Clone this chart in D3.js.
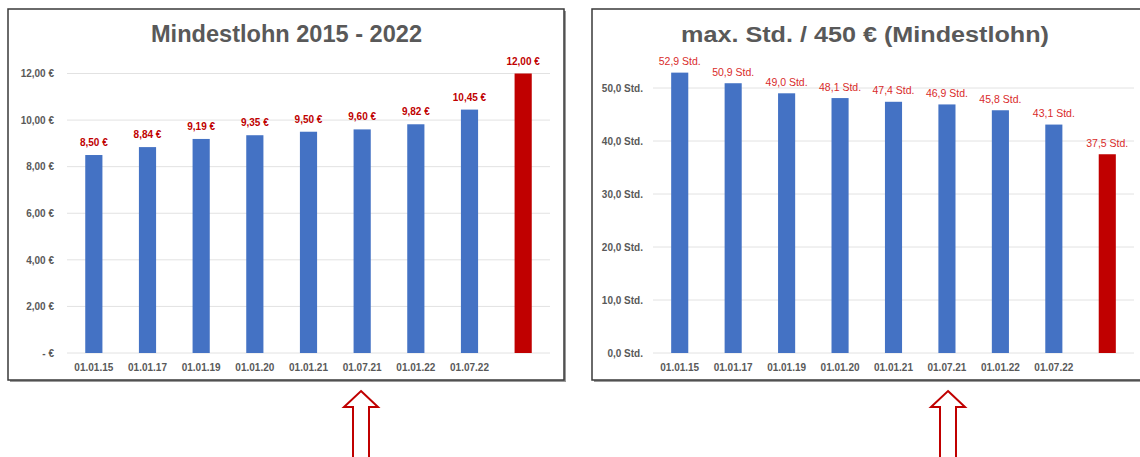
<!DOCTYPE html>
<html>
<head>
<meta charset="utf-8">
<script src="https://cdn.jsdelivr.net/npm/d3@7"></script>
<style>
  html, body { margin: 0; padding: 0; background: #ffffff; }
  svg { display: block; }
  text { font-family: "Liberation Sans", Arial, sans-serif; }
</style>
</head>
<body>
<svg id="chart" width="1140" height="457"></svg>
<script>
// ---- data ----
const categories = ["01.01.15", "01.01.17", "01.01.19", "01.01.20", "01.01.21", "01.07.21", "01.01.22", "01.07.22", ""];
const wageValues = [8.50, 8.84, 9.19, 9.35, 9.50, 9.60, 9.82, 10.45, 12.00];
const wageLabels = ["8,50 €", "8,84 €", "9,19 €", "9,35 €", "9,50 €", "9,60 €", "9,82 €", "10,45 €", "12,00 €"];
const hourValues = [52.9, 50.9, 49.0, 48.1, 47.4, 46.9, 45.8, 43.1, 37.5];
const hourLabels = ["52,9 Std.", "50,9 Std.", "49,0 Std.", "48,1 Std.", "47,4 Std.", "46,9 Std.", "45,8 Std.", "43,1 Std.", "37,5 Std."];
const wageTicks = [0, 2, 4, 6, 8, 10, 12];
const wageTickLabels = ["-  €", "2,00 €", "4,00 €", "6,00 €", "8,00 €", "10,00 €", "12,00 €"];
const hourTicks = [0, 10, 20, 30, 40, 50];
const hourTickLabels = ["0,0 Std.", "10,0 Std.", "20,0 Std.", "30,0 Std.", "40,0 Std.", "50,0 Std."];
const titles = ["Mindestlohn 2015 - 2022", "max. Std. / 450 € (Mindestlohn)"];

const svg = d3.select("#chart");
const BLUE = "#4472C4", RED = "#C00000", GRAY = "#595959";

function panel(cfg) {
  const g = svg.append("g");
  // frame with shadow
  g.append("rect").attr("x", cfg.fx + 2).attr("y", cfg.fy + 2)
    .attr("width", cfg.fw).attr("height", cfg.fh).attr("fill", "#9a9a9a");
  g.append("rect").attr("x", cfg.fx).attr("y", cfg.fy)
    .attr("width", cfg.fw).attr("height", cfg.fh)
    .attr("fill", "#fff").attr("stroke", "#3a3a3a").attr("stroke-width", 1.5);

  const x = d3.scaleBand().domain(categories).range([cfg.x0, cfg.x1]).paddingInner(0.68).paddingOuter(0.34);
  const y = d3.scaleLinear().domain([0, cfg.tickVals[cfg.tickVals.length - 1]]).range([353, cfg.yTop]);

  // gridlines
  g.append("g").selectAll("line").data(cfg.tickVals).join("line")
    .attr("x1", cfg.x0).attr("x2", cfg.x1)
    .attr("y1", d => y(d)).attr("y2", d => y(d))
    .attr("stroke", "#e2e2e2").attr("stroke-width", 1);

  // y axis labels
  const yAxis = d3.axisLeft(y).tickValues(cfg.tickVals)
    .tickFormat((d, i) => cfg.tickLabels[i]).tickSize(0).tickPadding(0);
  const ya = g.append("g").attr("transform", `translate(${cfg.yLabelX},0)`).call(yAxis);
  ya.select(".domain").remove();
  ya.selectAll("text").attr("fill", GRAY).attr("font-size", "10px").attr("font-weight", "bold")
    .attr("font-family", "Liberation Sans, Arial, sans-serif");

  // x axis labels
  const xAxis = d3.axisBottom(x).tickSize(0).tickPadding(0);
  const xa = g.append("g").attr("transform", `translate(0,364)`).call(xAxis);
  xa.select(".domain").remove();
  xa.selectAll("text").attr("fill", GRAY).attr("font-size", "10px").attr("font-weight", "bold")
    .attr("font-family", "Liberation Sans, Arial, sans-serif");

  // bars
  g.append("g").selectAll("rect").data(cfg.values).join("rect")
    .attr("x", (d, i) => x(categories[i]))
    .attr("width", x.bandwidth())
    .attr("y", d => y(d))
    .attr("height", d => y(0) - y(d))
    .attr("fill", (d, i) => i === cfg.values.length - 1 ? RED : BLUE);

  // data labels
  g.append("g").selectAll("text").data(cfg.values).join("text")
    .attr("x", (d, i) => x(categories[i]) + x.bandwidth() / 2)
    .attr("y", d => y(d) - cfg.labelGap)
    .attr("text-anchor", "middle")
    .attr("font-size", cfg.labelSize)
    .attr("font-weight", cfg.labelWeight)
    .attr("fill", cfg.labelColor)
    .text((d, i) => cfg.labels[i]);

  // title
  g.append("text")
    .attr("x", cfg.titleX).attr("y", 42)
    .attr("text-anchor", "middle")
    .attr("font-size", cfg.titleSize).attr("font-weight", "bold")
    .attr("fill", GRAY)
    .attr("textLength", cfg.titleLen).attr("lengthAdjust", "spacingAndGlyphs")
    .text(cfg.title);

  // arrow
  const ax = cfg.arrowX, top = 391;
  const pts = [[ax, top], [ax + 17, top + 16], [ax + 8, top + 16], [ax + 8, 470],
               [ax - 8, 470], [ax - 8, top + 16], [ax - 17, top + 16]];
  svg.append("path").attr("d", d3.line()(pts) + "Z")
    .attr("fill", "#fff").attr("stroke", RED).attr("stroke-width", 2)
    .attr("stroke-linejoin", "miter");
}

panel({
  fx: 8, fy: 9, fw: 556, fh: 371,
  x0: 67, x1: 550, yTop: 73.5, yLabelX: 54,
  tickVals: wageTicks, tickLabels: wageTickLabels,
  values: wageValues, labels: wageLabels,
  labelGap: 9, labelSize: "10px", labelWeight: "bold", labelColor: RED,
  title: titles[0], titleX: 286.5, titleSize: "23px", titleLen: 271,
  arrowX: 361
});

panel({
  fx: 592, fy: 9, fw: 560, fh: 371,
  x0: 653, x1: 1134, yTop: 88, yLabelX: 643,
  tickVals: hourTicks, tickLabels: hourTickLabels,
  values: hourValues, labels: hourLabels,
  labelGap: 7.5, labelSize: "10.5px", labelWeight: "normal", labelColor: "#D92B2B",
  title: titles[1], titleX: 865, titleSize: "22px", titleLen: 368,
  arrowX: 948
});
</script>
</body>
</html>
